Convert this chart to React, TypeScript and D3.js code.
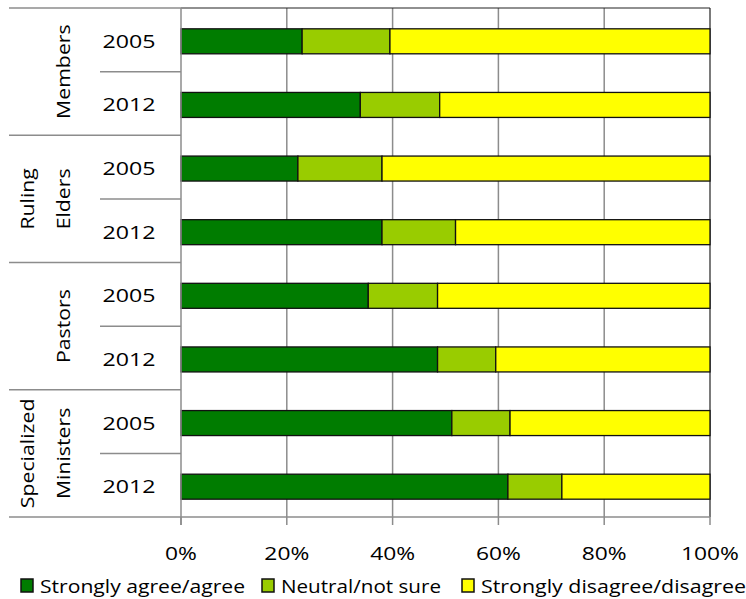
import * as d3 from "d3";
import * as React from "react";

const groups = ["Members", "Ruling Elders", "Pastors", "Specialized Ministers"];
const groupLines = [["Members"], ["Ruling", "Elders"], ["Pastors"], ["Specialized", "Ministers"]];
const years = ["2005", "2012"];
const seriesNames = ["Strongly agree/agree", "Neutral/not sure", "Strongly disagree/disagree"];
const colors = ["#007c00", "#99cc00", "#ffff00"];

// percent per row, order: Members 2005, Members 2012, Ruling 2005 ...
const agree = [22.9, 33.9, 22.1, 38.0, 35.4, 48.5, 51.2, 61.8];
const neutral = [16.6, 15.0, 15.9, 13.9, 13.1, 11.0, 11.0, 10.2];
const disagree = agree.map((a, i) => 100 - a - neutral[i]);

const ticks = [0, 20, 40, 60, 80, 100];

const W = 746, H = 599;
const left = 181, right = 710, top = 8, bottom = 517;
const font = "'Open Sans', sans-serif";
const fs = 19;

// legend layout
const legX = [21, 262, 462];
const legLen = [205, 160, 265];

export default function App() {
  const rows = groups.flatMap((g, gi) => years.map((y) => ({ g, gi, y, key: g + y })));
  const x = d3.scaleLinear().domain([0, 100]).range([left, right]);
  const y = d3.scaleBand().domain(rows.map((r) => r.key)).range([top, bottom]);
  const rowH = y.bandwidth();
  const barH = 25;

  const table = rows.map((r, i) => ({ key: r.key, a: agree[i], n: neutral[i], d: disagree[i] }));
  const stack = d3.stack<any>().keys(["a", "n", "d"])(table);

  return (
    <svg width={W} height={H} style={{ position: "absolute", left: 0, top: 0 }}>
      <rect width={W} height={H} fill="#fff" />
      {/* gridlines */}
      {ticks.slice(1, -1).map((t) => (
        <line key={t} x1={x(t)} x2={x(t)} y1={top} y2={bottom} stroke="#8c8c8c" strokeWidth={1.5} />
      ))}
      <line x1={left} x2={right} y1={top} y2={top} stroke="#222" strokeWidth={1.2} />
      <line x1={right} x2={right} y1={top} y2={bottom} stroke="#222" strokeWidth={1.2} />
      {/* bars */}
      {stack.map((s, si) =>
        s.map((d, i) => (
          <rect
            key={si + "-" + i}
            x={x(d[0])}
            width={x(d[1]) - x(d[0])}
            y={(y(d.data.key) as number) + (rowH - barH) / 2 + 1.5}
            height={barH}
            fill={colors[si]}
            stroke="#111"
            strokeWidth={1.3}
          />
        ))
      )}
      {/* axes */}
      <line x1={left} x2={left} y1={top} y2={bottom + 8} stroke="#8c8c8c" strokeWidth={1.5} />
      <line x1={left} x2={right} y1={bottom} y2={bottom} stroke="#8c8c8c" strokeWidth={1.5} />
      {ticks.map((t) => (
        <g key={t}>
          <line x1={x(t)} x2={x(t)} y1={bottom} y2={bottom + 8} stroke="#8c8c8c" strokeWidth={1.5} />
          <text
            transform={`translate(${x(t)},560) scale(1.2,1)`}
            textAnchor="middle"
            fontFamily={font}
            fontSize={fs}
            fill="#000"
          >
            {t}%
          </text>
        </g>
      ))}
      {/* category labels */}
      {rows.map((r) => (
        <text
          key={r.key}
          transform={`translate(129,${(y(r.key) as number) + rowH / 2 + 8}) scale(1.22,1)`}
          textAnchor="middle"
          fontFamily={font}
          fontSize={fs}
        >
          {r.y}
        </text>
      ))}
      {rows.map((r, i) =>
        i % 2 === 1 ? (
          <line key={"s" + i} x1={100} x2={left} y1={y(r.key)} y2={y(r.key)} stroke="#8c8c8c" strokeWidth={1.5} />
        ) : null
      )}
      {groups.map((g, gi) => {
        const g0 = y(rows[gi * 2].key) as number;
        const cy = g0 + rowH;
        const lines = groupLines[gi];
        return (
          <g key={g}>
            <line x1={9} x2={left} y1={g0} y2={g0} stroke="#8c8c8c" strokeWidth={1.5} />
            {lines.map((l, li) => {
              const bx = lines.length === 1 ? 70 : 34 + li * 36;
              return (
                <text
                  key={l}
                  transform={`translate(${bx},${cy}) rotate(-90) scale(1.12,1)`}
                  textAnchor="middle"
                  fontFamily={font}
                  fontSize={fs}
                >
                  {l}
                </text>
              );
            })}
          </g>
        );
      })}
      <line x1={9} x2={left} y1={bottom} y2={bottom} stroke="#8c8c8c" strokeWidth={1.5} />
      {/* legend */}
      {seriesNames.map((n, i) => (
        <g key={n}>
          <rect x={legX[i]} y={579} width={12} height={13} fill={colors[i]} stroke="#111" strokeWidth={1.5} />
          <text
            x={legX[i] + 19}
            y={593}
            fontFamily={font}
            fontSize={fs}
            textLength={legLen[i]}
            lengthAdjust="spacingAndGlyphs"
          >
            {n}
          </text>
        </g>
      ))}
    </svg>
  );
}
